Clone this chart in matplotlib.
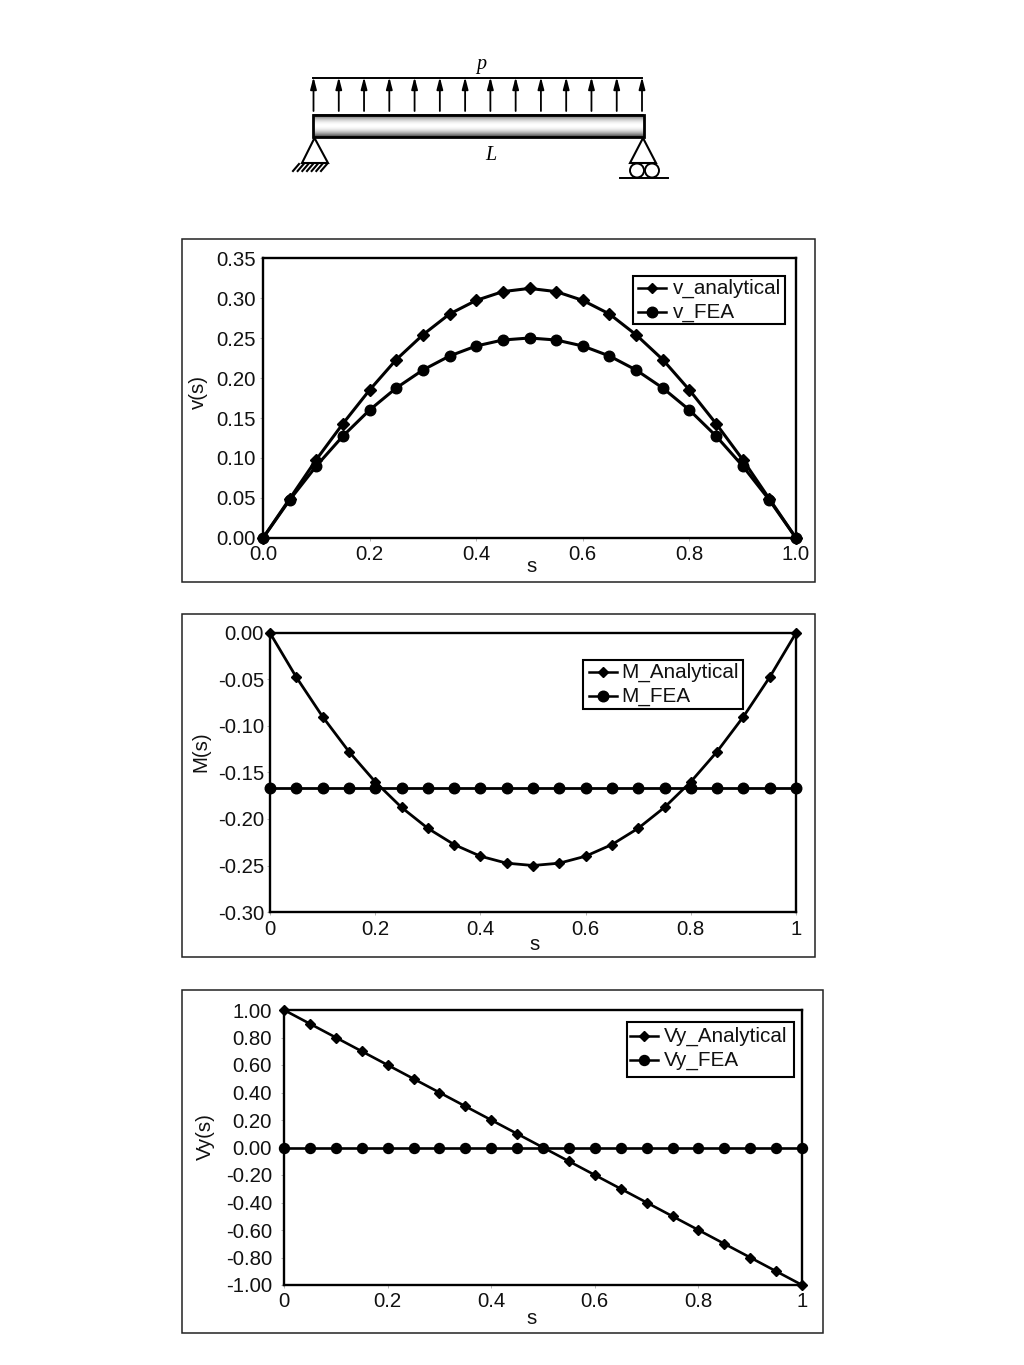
import numpy as np
import matplotlib
matplotlib.use('Agg')
import matplotlib.pyplot as plt
from matplotlib.patches import Rectangle, Circle, Polygon

plt.rcParams['font.family'] = ['Liberation Sans', 'DejaVu Sans']

W, H = 1024, 1365

s = [0.0, 0.05, 0.1, 0.15, 0.2, 0.25, 0.3, 0.35, 0.4, 0.45, 0.5,
     0.55, 0.6, 0.65, 0.7, 0.75, 0.8, 0.85, 0.9, 0.95, 1.0]

v_analytical = [0.0, 0.049, 0.098, 0.143, 0.185, 0.223, 0.254, 0.28, 0.297, 0.308, 0.312,
                0.308, 0.297, 0.28, 0.254, 0.223, 0.185, 0.143, 0.098, 0.049, 0.0]
v_fea = [0.0, 0.0475, 0.09, 0.1275, 0.16, 0.1875, 0.21, 0.2275, 0.24, 0.2475, 0.25,
         0.2475, 0.24, 0.2275, 0.21, 0.1875, 0.16, 0.1275, 0.09, 0.0475, 0.0]

m_analytical = [0.0, -0.0475, -0.09, -0.1275, -0.16, -0.1875, -0.21, -0.2275, -0.24, -0.2475, -0.25,
                -0.2475, -0.24, -0.2275, -0.21, -0.1875, -0.16, -0.1275, -0.09, -0.0475, 0.0]
m_fea = [-0.1667] * 21

vy_analytical = [1.0, 0.9, 0.8, 0.7, 0.6, 0.5, 0.4, 0.3, 0.2, 0.1, 0.0,
                 -0.1, -0.2, -0.3, -0.4, -0.5, -0.6, -0.7, -0.8, -0.9, -1.0]
vy_fea = [0.0] * 21

v_yticks = [0.0, 0.05, 0.1, 0.15, 0.2, 0.25, 0.3, 0.35]
m_yticks = [0.0, -0.05, -0.1, -0.15, -0.2, -0.25, -0.3]
vy_yticks = [1.0, 0.8, 0.6, 0.4, 0.2, 0.0, -0.2, -0.4, -0.6, -0.8, -1.0]
xticks = [0.0, 0.2, 0.4, 0.6, 0.8, 1.0]

FS = 14.7

fig = plt.figure(figsize=(W / 100, H / 100), dpi=100)

# whole-figure axes in pixels, for the beam sketch and the outer frames
bg = fig.add_axes([0, 0, 1, 1])
bg.set_xlim(0, W)
bg.set_ylim(H, 0)
bg.axis('off')


def make_panel(frame, box, a, b, yticks, ylim, xlabels, ylabel, names, legend_box, rows,
               xlab_pos, ylab_pos, ypad, xpad, dsize, csize, lw, leg_off):
    fx0, fy0, fx1, fy1 = frame
    bg.add_patch(Rectangle((fx0, fy0), fx1 - fx0, fy1 - fy0, fill=False, ec='#222222', lw=1.1))
    x0, y0, x1, y1 = box
    ax = fig.add_axes([x0 / W, 1 - y1 / H, (x1 - x0) / W, (y1 - y0) / H])
    ax.patch.set_alpha(0)
    ax.plot(s, a, '-D', color='black', lw=lw, ms=dsize, clip_on=False, zorder=5)
    ax.plot(s, b, '-o', color='black', lw=lw, ms=csize, clip_on=False, zorder=5)
    ax.set_xlim(0, 1)
    ax.set_ylim(*ylim)
    ax.set_xticks(xticks)
    ax.set_xticklabels(xlabels)
    ax.set_yticks(yticks)
    ax.set_yticklabels(['%.2f' % t for t in yticks])
    ax.tick_params(axis='both', labelsize=FS, length=2.2, width=0.5, color='#999999', labelcolor='#111111')
    ax.tick_params(axis='y', pad=ypad)
    ax.tick_params(axis='x', pad=xpad)
    for sp in ax.spines.values():
        sp.set_linewidth(1.7)
    bg.text(xlab_pos[0], xlab_pos[1], 's', fontsize=FS, ha='center', va='center', color='#111111')
    bg.text(ylab_pos[0], ylab_pos[1], ylabel, fontsize=FS, rotation=90, ha='center', va='center', color='#111111')

    # legend drawn by hand so its box lands where the original one is
    lx0, ly0, lx1, ly1 = legend_box
    bg.add_patch(Rectangle((lx0, ly0), lx1 - lx0, ly1 - ly0, fc='white', ec='black', lw=1.5, zorder=6))
    line_x0, mark_x, text_x = leg_off
    for row, name, mk, ms in zip(rows, names, ['D', 'o'], [4.6, csize]):
        bg.plot([lx0 + line_x0, lx0 + line_x0 + 28], [row, row], '-', color='black', lw=1.8, zorder=7)
        bg.plot([lx0 + mark_x], [row], mk, color='black', ms=ms, zorder=7)
        bg.text(lx0 + text_x, row, name, fontsize=14.9, va='center', ha='left', zorder=7, color='#111111')


make_panel((182, 239, 815, 582), (263, 258, 796, 538), v_analytical, v_fea,
           v_yticks, (0, 0.35), ['0.0', '0.2', '0.4', '0.6', '0.8', '1.0'],
           'v(s)', ['v_analytical', 'v_FEA'], (633, 276, 785, 324), (288, 312),
           (532, 566), (198, 392), 2.8, 2.8, 6.2, 7.6, 2.2, (5, 19, 40))
make_panel((182, 614, 815, 957), (270, 633, 796, 912), m_analytical, m_fea,
           m_yticks, (-0.3, 0), ['0', '0.2', '0.4', '0.6', '0.8', '1'],
           'M(s)', ['M_Analytical', 'M_FEA'], (583, 660, 743, 709), (672, 696),
           (535, 945), (201, 752), 2.1, 3.5, 5.4, 7.6, 2.0, (6, 20, 38))
make_panel((182, 990, 823, 1333), (284, 1010, 802, 1285), vy_analytical, vy_fea,
           vy_yticks, (-1, 1), ['0', '0.2', '0.4', '0.6', '0.8', '1'],
           'Vy(s)', ['Vy_Analytical', 'Vy_FEA'], (627, 1022, 794, 1077), (1036, 1060),
           (532, 1319), (205, 1137), 6.4, 2.8, 5.0, 7.2, 1.9, (3, 17, 37))

# beam sketch: gradient bar
shade = np.abs(np.linspace(-1, 1, 40)).reshape(-1, 1) ** 2
bg.imshow(1 - shade * 0.75, extent=(313, 644, 137, 114), cmap='gray', vmin=0, vmax=1, aspect='auto', zorder=1)
bg.set_xlim(0, W)
bg.set_ylim(H, 0)
bg.add_patch(Rectangle((313, 114.5), 330.5, 22.5, fill=False, ec='black', lw=2, zorder=2))

# load arrows
bg.plot([313, 642], [78, 78], color='black', lw=1.4)
for ax_x in np.linspace(313.5, 642, 14):
    bg.annotate('', xy=(ax_x, 77), xytext=(ax_x, 111),
                arrowprops=dict(arrowstyle='-|>,head_length=0.5,head_width=0.13', color='black', lw=1.3,
                                mutation_scale=14, shrinkA=0, shrinkB=0))

bg.text(481, 64, 'p', family='Liberation Serif', style='italic', fontsize=14.5, ha='center', va='center')
bg.text(491, 156, 'L', family='Liberation Serif', style='italic', fontsize=14.5, ha='center', va='center')

# left pin support
bg.add_patch(Polygon([(314.5, 138), (302, 163), (328, 163)], fill=False, ec='black', lw=1.5))
for hx in np.linspace(299, 327, 7):
    bg.plot([hx, hx - 6], [164, 171], color='black', lw=1.5)

# right roller support
bg.add_patch(Polygon([(643, 138), (630, 163), (656, 163)], fill=False, ec='black', lw=1.5))
bg.add_patch(Circle((637, 170.5), 7, fill=False, ec='black', lw=1.4))
bg.add_patch(Circle((652, 170.5), 7, fill=False, ec='black', lw=1.4))
bg.plot([620, 668], [177.5, 177.5], color='black', lw=1.4)

fig.savefig('out.png', dpi=100)
